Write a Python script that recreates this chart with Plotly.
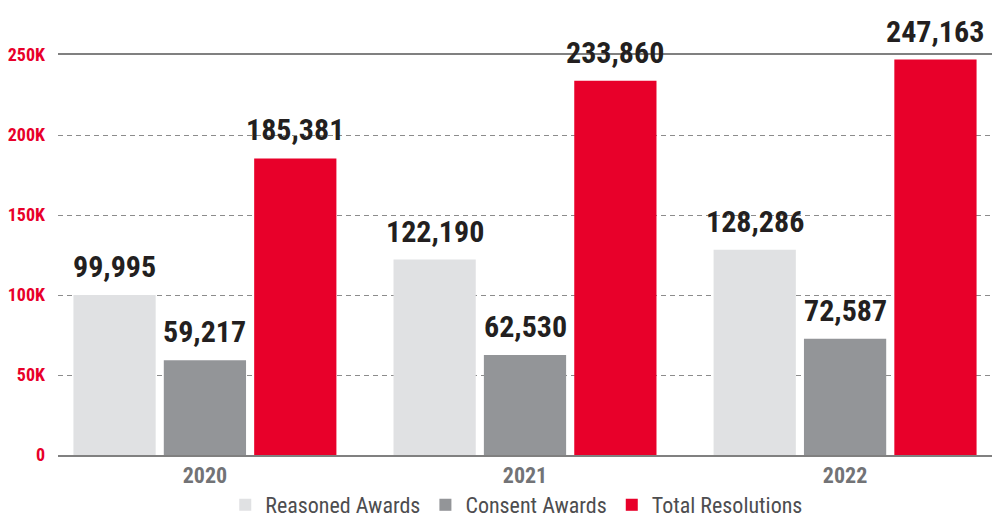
import plotly.graph_objects as go

years = ["2020", "2021", "2022"]
reasoned = [99995, 122190, 128286]
consent = [59217, 62530, 72587]
total = [185381, 233860, 247163]
series_names = ["Reasoned Awards", "Consent Awards", "Total Resolutions"]
colors = ["#e0e1e3", "#939598", "#e8002a"]
ytick_vals = [0, 50000, 100000, 150000, 200000, 250000]
ytick_text = ["0", "50K", "100K", "150K", "200K", "250K"]

COND = "Roboto Condensed, Open Sans Condensed, sans-serif"

fig = go.Figure()
all_series = [reasoned, consent, total]
for name, vals, col in zip(series_names, all_series, colors):
    fig.add_trace(go.Bar(
        x=years, y=vals, name=name, marker=dict(color=col, line=dict(width=0)),
        hoverinfo="x+y+name",
    ))

# value labels above each bar (bar slot is ~90px within a 320px category)
slot_px = 90.3
for si, vals in enumerate(all_series):
    for ci, v in enumerate(vals):
        fig.add_annotation(
            x=ci, y=v, xref="x", yref="y", text=f"{v:,}", showarrow=False,
            xanchor="center", yanchor="bottom", xshift=(si - 1) * slot_px, yshift=9,
            font=dict(family=COND, size=30, color="#231f20", weight="bold"),
        )

# page body has an 8px default margin, so the figure is sized 992x519
fig.update_layout(
    width=992, height=519,
    margin=dict(l=50, r=0, t=47, b=72, autoexpand=False),
    paper_bgcolor="white", plot_bgcolor="white",
    barmode="group", bargap=0.153, bargroupgap=0.09,
    legend=dict(orientation="h", x=0.487, xanchor="center", y=-0.125, yanchor="middle",
                font=dict(family=COND, size=22, color="#4d4d4f"),
                traceorder="normal", itemsizing="constant"),
    showlegend=True,
)
fig.update_xaxes(
    type="category", range=[-0.459, 2.484], automargin=False,
    showline=True, mirror=True, linecolor="#808080", linewidth=1.5,
    showgrid=False, ticks="",
    tickfont=dict(family=COND, size=22, color="#727376", weight="bold"),
)
fig.update_yaxes(
    range=[0, 250000], tickvals=ytick_vals, ticktext=ytick_text, automargin=False,
    showgrid=True, gridcolor="#8c8c8c", griddash="5px,4px", gridwidth=1,
    zeroline=False, showline=False, ticks="", ticklabelstandoff=12,
    tickfont=dict(family=COND, size=18, color="#e8002a", weight="bold"),
)
fig.write_html("out.html")
